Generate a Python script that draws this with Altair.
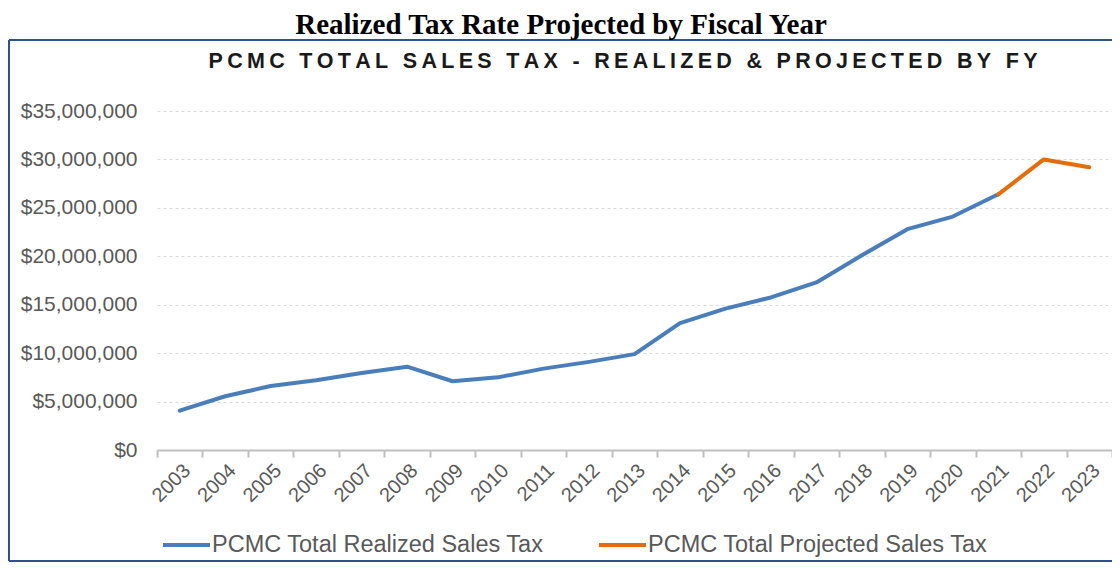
import altair as alt
import pandas as pd

years = [str(y) for y in range(2003, 2024)]
realized_years = years[:19]          # 2003-2021
realized_values = [4.07e6, 5.55e6, 6.6e6, 7.2e6, 7.95e6, 8.6e6, 7.1e6, 7.5e6,
                   8.4e6, 9.1e6, 9.9e6, 13.1e6, 14.6e6, 15.75e6, 17.3e6, 20.1e6,
                   22.8e6, 24.1e6, 26.4e6]
projected_years = ["2021", "2022", "2023"]
projected_values = [26.4e6, 30.0e6, 29.2e6]
series_names = ["PCMC Total Realized Sales Tax", "PCMC Total Projected Sales Tax"]
series_colors = ["#4A7EBB", "#E46C0A"]
y_ticks = [0, 5e6, 10e6, 15e6, 20e6, 25e6, 30e6, 35e6]
outer_title = "Realized Tax Rate Projected by Fiscal Year"
inner_title = "PCMC TOTAL SALES TAX - REALIZED & PROJECTED BY FY"

rows = [{"year": y, "value": v, "series": series_names[0]} for y, v in zip(realized_years, realized_values)]
rows += [{"year": y, "value": v, "series": series_names[1]} for y, v in zip(projected_years, projected_values)]
df = pd.DataFrame(rows)

W, H = 955, 339
PAD_L, PAD_T, PAD_R, PAD_B = 149, 103, 0, 114

spaced_inner = "\u2009".join(list(inner_title))

lines = alt.Chart(df).mark_line(strokeWidth=4, strokeCap="round", strokeJoin="round").encode(
    x=alt.X("year:O", scale=alt.Scale(domain=years, paddingInner=0, paddingOuter=0),
            axis=alt.Axis(title=None, labelAngle=-45, labelFont="Liberation Sans", labelFontSize=20,
                          labelColor="#595959", domainColor="#BFBFBF", domainWidth=2,
                          tickColor="#BFBFBF", tickWidth=2, tickSize=7, tickBand="extent",
                          labelPadding=3, grid=False)),
    y=alt.Y("value:Q", scale=alt.Scale(domain=[0, 35e6], nice=False, zero=True),
            axis=alt.Axis(title=None, values=y_ticks, format="$,.0f", labelFont="Liberation Sans",
                          labelFontSize=21, labelColor="#595959", labelPadding=20, ticks=False,
                          domain=False, grid=True, gridColor="#D9D9D9", gridDash=[3, 3],
                          gridWidth=1)),
    color=alt.Color("series:N", scale=alt.Scale(domain=series_names, range=series_colors),
                    legend=alt.Legend(title=None, orient="none", legendX=4, legendY=408.5,
                                      direction="horizontal", symbolType="stroke", symbolSize=2209,
                                      symbolStrokeWidth=4, labelFont="Liberation Sans",
                                      labelFontSize=23.5, labelColor="#595959", labelOffset=0,
                                      columnPadding=47, padding=0, labelLimit=0)),
    detail="series:N",
)

one = alt.Data(values=[{"a": 1}])
FRAME = "#2F528F"
frame_left = alt.Chart(one).mark_rule(stroke=FRAME, strokeWidth=2).encode(
    x=alt.value(1 - PAD_L), y=alt.value(32 - PAD_T), y2=alt.value(H + PAD_B - 3))
frame_top = alt.Chart(one).mark_rule(stroke=FRAME, strokeWidth=2).encode(
    x=alt.value(1 - PAD_L), x2=alt.value(W + 5), y=alt.value(32 - PAD_T))
frame_bottom = alt.Chart(one).mark_rule(stroke=FRAME, strokeWidth=2).encode(
    x=alt.value(1 - PAD_L), x2=alt.value(W + 5), y=alt.value(H + PAD_B - 3))

title1 = alt.Chart(alt.Data(values=[{"t": outer_title}])).mark_text(
    font="Liberation Serif", fontSize=29, fontWeight="bold", color="#000000",
    align="center", baseline="alphabetic").encode(
    text="t:N", x=alt.value(404), y=alt.value(-77))

title2 = alt.Chart(alt.Data(values=[{"t": spaced_inner}])).mark_text(
    font="Liberation Sans", fontSize=21.5, fontWeight="bold", color="#1A1A1A",
    align="center", baseline="alphabetic").encode(
    text="t:N", x=alt.value(466), y=alt.value(-43.5))

chart = alt.layer(frame_left, frame_top, frame_bottom, lines, title1, title2).properties(
    width=W, height=H,
    autosize=alt.AutoSizeParams(type="none"),
    padding={"left": PAD_L, "top": PAD_T, "right": PAD_R, "bottom": PAD_B},
    background="white",
).configure_view(stroke=None)

chart.save("out.html", embed_options={"renderer": "svg", "actions": False})
